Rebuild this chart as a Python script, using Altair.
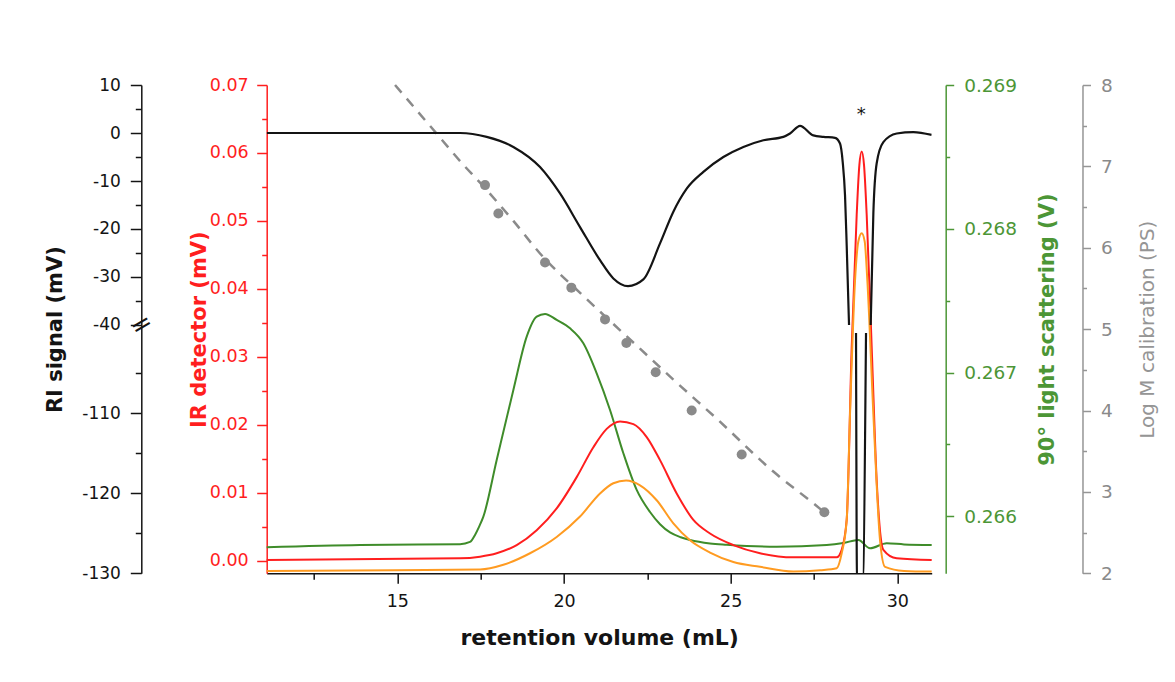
import altair as alt
import pandas as pd

# ---------------- data ----------------
# RI signal (black), three drawn pieces around the axis break
ri_upper_vol = [11.08, 16.88, 17.68, 18.48, 19.28, 19.88, 20.48, 21.08, 21.48, 21.92, 22.38,
                22.88, 23.28, 23.68, 24.18, 24.78, 25.38, 25.98, 26.58, 26.78, 27.08, 27.48,
                27.78, 28.13, 28.28, 28.36, 28.43, 28.48, 28.55]
ri_upper_mv = [0, 0, -0.8, -2.9, -7.1, -12.6, -19.6, -26.5, -30.3, -31.9, -30.5,
               -23.0, -16.4, -11.6, -8.1, -5.0, -2.9, -1.5, -0.8, -0.1, 1.5, -0.5,
               -0.8, -1.0, -2.2, -6.0, -13.0, -23.4, -40.0]
ri_lower_vol = [28.76, 28.79, 28.96, 29.06]
ri_lower_mv = [-100, -131, -131, -100]
ri_right_vol = [29.20, 29.28, 29.38, 29.58, 29.98, 30.48, 31.03]
ri_right_mv = [-40, -16.7, -6.3, -1.9, -0.1, 0.2, -0.4]

# IR detector (red)
ir_vol = [11.08, 16.88, 17.48, 17.98, 18.58, 19.18, 19.78, 20.38, 20.88, 21.28, 21.68, 22.08,
          22.48, 22.88, 23.38, 23.88, 24.38, 25.08, 25.88, 26.88, 28.18, 28.33, 28.48, 28.63,
          28.78, 28.86, 28.93, 29.00, 29.08, 29.23, 29.38, 29.58, 29.98, 31.03]
ir_mv = [0.0001, 0.00035, 0.0006, 0.0011, 0.0023, 0.0045, 0.0077, 0.0123, 0.0167, 0.0194, 0.0205,
         0.0201, 0.0182, 0.0148, 0.0099, 0.0060, 0.0040, 0.0023, 0.0011, 0.0005, 0.0005, 0.0016,
         0.0060, 0.0314, 0.0509, 0.0582, 0.0602, 0.0582, 0.0509, 0.0314, 0.0118, 0.0016, 0.00035,
         0.0001]

# second IR channel (orange)
ir2_vol = [11.08, 14.88, 17.48, 18.18, 18.98, 19.78, 20.48, 21.08, 21.48, 21.86, 22.28, 22.78,
           23.28, 23.78, 24.38, 25.08, 25.88, 26.88, 27.68, 28.18, 28.33, 28.48, 28.58, 28.73,
           28.83, 28.93, 29.02, 29.10, 29.28, 29.48, 29.63, 30.20, 31.03]
ir2_mv = [-0.0015, -0.0014, -0.0013, -0.0006, 0.0011, 0.0035, 0.0065, 0.0099, 0.0114, 0.0118,
          0.0111, 0.0089, 0.0055, 0.0030, 0.0012, -0.0002, -0.0009, -0.0016, -0.0014, -0.0011,
          0.0011, 0.0060, 0.0216, 0.0412, 0.0470, 0.0482, 0.0470, 0.0412, 0.0216, 0.0030,
          -0.0009, -0.0015, -0.0016]

# 90 deg light scattering (green)
ls_vol = [11.08, 13.88, 16.88, 17.18, 17.33, 17.45, 17.58, 17.98, 18.48, 18.88, 19.18, 19.43,
          19.78, 20.18, 20.58, 20.98, 21.38, 21.78, 22.18, 22.58, 22.88, 23.18, 23.50, 23.78,
          24.38, 24.88, 26.38, 27.88, 28.38, 28.83, 29.18, 29.68, 30.20, 31.03]
ls_v = [0.265785, 0.265801, 0.265806, 0.265822, 0.265871, 0.265927, 0.265998, 0.266392,
        0.266879, 0.267250, 0.267389, 0.267408, 0.267366, 0.267308, 0.267204, 0.266995,
        0.266740, 0.266439, 0.266184, 0.266030, 0.265945, 0.265888, 0.265855, 0.265836,
        0.265812, 0.265803, 0.265789, 0.265801, 0.265815, 0.265836, 0.265778, 0.265813,
        0.265805, 0.265801]

# Log M calibration (grey): standards and fitted curve
cal_vol = [17.63, 18.03, 19.43, 20.22, 21.23, 21.87, 22.75, 23.83, 25.33, 27.81]
cal_logm = [6.77, 6.42, 5.82, 5.51, 5.12, 4.83, 4.47, 4.00, 3.46, 2.75]
fit_vol = [14.93, 16.08, 16.98, 17.48, 18.48, 19.28, 20.68, 22.28, 23.28, 24.58, 26.28, 27.48, 27.81]
fit_logm = [8.0, 7.45, 7.02, 6.80, 6.33, 5.93, 5.37, 4.76, 4.38, 3.90, 3.25, 2.86, 2.75]

# annotations
star_vol, star_mv = [28.92], [2.8]
break_vol, break_mv = [7.32], [-40]

x_ticks = [12.5, 15, 17.5, 20, 22.5, 25, 27.5, 30]
ri_ticks = [10, 5, 0, -5, -10, -15, -20, -25, -30, -35, -40, -105, -110, -115, -120, -125, -130]
ir_ticks = [i / 1000 for i in range(0, 71, 5)]
ls_ticks = [0.266, 0.2665, 0.267, 0.2675, 0.268, 0.2685, 0.269]
logm_ticks = [2, 2.5, 3, 3.5, 4, 4.5, 5, 5.5, 6, 6.5, 7, 7.5, 8]

# ---------------- frames ----------------
ri_df = pd.DataFrame({
    "vol": ri_upper_vol + ri_lower_vol + ri_right_vol,
    "val": ri_upper_mv + ri_lower_mv + ri_right_mv,
    "seg": ["a"] * len(ri_upper_vol) + ["b"] * len(ri_lower_vol) + ["c"] * len(ri_right_vol),
})
ir_df = pd.DataFrame({"vol": ir_vol, "val": ir_mv})
ir2_df = pd.DataFrame({"vol": ir2_vol, "val": ir2_mv})
ls_df = pd.DataFrame({"vol": ls_vol, "val": ls_v})
cal_df = pd.DataFrame({"vol": cal_vol, "val": cal_logm})
fit_df = pd.DataFrame({"vol": fit_vol, "val": fit_logm})
star_df = pd.DataFrame({"vol": star_vol, "val": star_mv, "t": ["*"]})
break_df = pd.DataFrame({"vol": break_vol, "val": break_mv, "t": ["="]})

BLACK = "#141414"
RED = "#ff1e1e"
ORANGE = "#ff9b21"
GREEN = "#3f8c2a"
GREEN_TXT = "#4c9636"
GREY = "#8a8a8a"
FONT = "DejaVu Sans"

W, H = 665, 488.3

X_ENC = alt.X(
    "vol:Q",
    scale=alt.Scale(domain=[11.08, 31.03], nice=False, zero=False),
    axis=alt.Axis(
        values=x_ticks,
        labelExpr="datum.value % 5 === 0 ? datum.label : ''",
        tickSize={"condition": {"test": "datum.value % 5 === 0", "value": 10}, "value": 6},
        title="retention volume (mL)", titleFontSize=22, titleFontWeight="bold",
        titleColor=BLACK, titleX=W / 2, titleY=71, titleAlign="center",
        titleBaseline="alphabetic",
        labelFontSize=17.5, labelColor=BLACK, labelPadding=9,
        domainColor=BLACK, tickColor=BLACK, domainWidth=1.5, tickWidth=1.5,
        labelFlush=False, labelOverlap=False, grid=False,
    ),
)

RI_SCALE = alt.Scale(domain=[-130, -99, -40, 10], range=[H, 240, 240, 0], nice=False, zero=False)
IR_SCALE = alt.Scale(domain=[-0.00185, 0.07], nice=False, zero=False)
LS_SCALE = alt.Scale(domain=[0.265604, 0.269], nice=False, zero=False)
LM_SCALE = alt.Scale(domain=[2, 8], nice=False, zero=False)


def yaxis(orient, offset, values, test, major, minor, title, color, label_color, title_x,
          label_size, title_weight="bold", title_size=21, label="datum.label", pad=9,
          fmt=None):
    kw = dict(
        orient=orient, offset=offset, values=values,
        labelExpr="(" + test + ") ? " + label + " : ''",
        tickSize={"condition": {"test": test, "value": major}, "value": minor},
        title=title, titleColor=color, titleFontWeight=title_weight, titleFontSize=title_size,
        titleX=title_x, titleY=H / 2, titleAngle=270, titleAlign="center",
        titleBaseline="middle",
        labelColor=label_color, labelFontSize=label_size, labelPadding=pad,
        domainColor=color, tickColor=color, domainWidth=1.5, tickWidth=1.5,
        labelFlush=False, labelOverlap=False, grid=False,
    )
    if fmt:
        kw["format"] = fmt
    return alt.Axis(**kw)


fit = alt.Chart(fit_df).mark_line(
    color=GREY, strokeWidth=2.5, strokeDash=[10, 8], interpolate="monotone"
).encode(
    x=X_ENC,
    y=alt.Y("val:Q", scale=LM_SCALE,
            axis=yaxis("right", 150.8, logm_ticks, "datum.value % 1 === 0", 8, 4,
                       "Log M calibration (PS)", "#959595", "#8a8a8a", 65, 18.5,
                       title_weight="normal", title_size=20, pad=10,
                       label="toString(datum.value)")),
)

cal = alt.Chart(cal_df).mark_circle(color=GREY, size=100, opacity=1).encode(
    x=X_ENC, y=alt.Y("val:Q", scale=LM_SCALE, axis=None)
)

ls = alt.Chart(ls_df).mark_line(color=GREEN, strokeWidth=2, interpolate="monotone").encode(
    x=X_ENC,
    y=alt.Y("val:Q", scale=LS_SCALE,
            axis=yaxis("right", 14, ls_ticks, "round(datum.value * 10000) % 10 === 0",
                       8, 4, "90° light scattering (V)", GREEN_TXT, GREEN_TXT, 102, 18.5,
                       fmt=".3f", pad=10)),
)

ir = alt.Chart(ir_df).mark_line(color=RED, strokeWidth=2, interpolate="monotone").encode(
    x=X_ENC,
    y=alt.Y("val:Q", scale=IR_SCALE,
            axis=yaxis("left", 0, ir_ticks, "round(datum.value * 1000) % 10 === 0",
                       10, 5, "IR detector (mV)", RED, RED, -66.7, 17.5, fmt=".2f", pad=8.5)),
)

ir2 = alt.Chart(ir2_df).mark_line(color=ORANGE, strokeWidth=2, interpolate="monotone").encode(
    x=X_ENC, y=alt.Y("val:Q", scale=IR_SCALE, axis=None)
)

ri = alt.Chart(ri_df).mark_line(color=BLACK, strokeWidth=2.2, interpolate="monotone",
                                clip=True).encode(
    x=X_ENC,
    y=alt.Y("val:Q", scale=RI_SCALE,
            axis=yaxis("left", 125.4, ri_ticks, "datum.value % 10 === 0", 11, 6,
                       "RI signal (mV)", BLACK, BLACK, -86, 17, pad=10,
                       label="toString(datum.value)")),
    detail="seg:N",
)

star = alt.Chart(star_df).mark_text(font=FONT, fontSize=18, color=BLACK,
                                    baseline="alphabetic").encode(
    x=X_ENC, y=alt.Y("val:Q", scale=RI_SCALE, axis=None), text="t:N"
)

brk = alt.Chart(break_df).mark_text(font=FONT, fontSize=26, color=BLACK, angle=330,
                                    baseline="middle", align="center").encode(
    x=X_ENC, y=alt.Y("val:Q", scale=RI_SCALE, axis=None), text="t:N"
)

chart = alt.layer(fit, cal, ls, ir, ir2, ri, star, brk).resolve_scale(
    y="independent"
).properties(
    width=W, height=H,
    autosize=alt.AutoSizeParams(type="none"),
    padding={"left": 258.7, "top": 77, "right": 234, "bottom": 95},
    background="white",
).configure_view(strokeWidth=0).configure_axis(
    labelFont=FONT, titleFont=FONT
)

chart.save("out.html", embed_options={"renderer": "svg", "actions": False})
